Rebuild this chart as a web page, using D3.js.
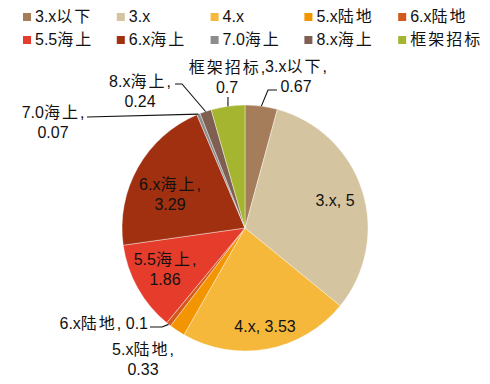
<!DOCTYPE html>
<html>
<head>
<meta charset="utf-8">
<script src="https://cdn.jsdelivr.net/npm/d3@7"></script>
<style>
  body { margin: 0; background: #fff; }
  text { font-family: "Liberation Sans", Arial, "Noto Sans CJK SC", sans-serif; fill: #111; }
</style>
</head>
<body>
<script>
// data
var categories = ["3.x以下", "3.x", "4.x", "5.x陆地", "6.x陆地", "5.5海上", "6.x海上", "7.0海上", "8.x海上", "框架招标"];
var values = [0.67, 5, 3.53, 0.33, 0.1, 1.86, 3.29, 0.07, 0.24, 0.7];
var colors = ["#A67D5A", "#D5C4A0", "#F5B83B", "#F39500", "#D45A1C", "#E63C2B", "#A0300F", "#8C8C8C", "#7E5F52", "#A5B530"];

var w = 490, h = 384;
var cx = 245, cy = 228, r = 123;

// label layout: inside labels use a radius/angle offset, outside ones get a spot and a leader
var labelLayout = {
    "3.x":     {inside: true, x: 90, y: -28, lines: 1},
    "4.x":     {inside: true, x: 20, y: 98, lines: 1},
    "6.x海上":  {inside: true, x: -75, y: -34, lines: 2},
    "5.5海上":  {inside: true, x: -80, y: 41, lines: 2},
    "3.x以下":  {x: 51, y: -156, lines: 2, leader: [[23, -138], [32, -138]]},
    "框架招标": {x: -18, y: -155, lines: 2, leader: [[-17, -131]]},
    "8.x海上":  {x: -105, y: -141, lines: 2, leader: [[-63, -144], [-70, -144]]},
    "7.0海上":  {x: -192, y: -110, lines: 2, leader: [[-158, -111]]},
    "6.x陆地":  {x: -97, y: 101, lines: 1, anchor: "end", leader: [[-83, 99], [-95, 99]]},
    "5.x陆地":  {x: -102, y: 127, lines: 2}
};

var svg = d3.select("body").append("svg")
    .attr("width", w)
    .attr("height", h);

// write text with spaced-out CJK runs
function fillText(t, str) {
    var runs = str.match(/[\u4e00-\u9fff]+|[^\u4e00-\u9fff]+/g);
    runs.forEach(function(s) {
        var ts = t.append("tspan").text(s);
        if (/[\u4e00-\u9fff]/.test(s)) {
            ts.style("font-family", "'Noto Sans CJK SC', sans-serif")
              .style("letter-spacing", "2px");
        }
    });
}

// legend
var legend = svg.append("g");
categories.forEach(function(c, i) {
    var col = i % 5, row = Math.floor(i / 5);
    var gx = 23 + col * 93.8, gy = 13 + row * 23;
    legend.append("rect")
        .attr("x", gx).attr("y", gy)
        .attr("width", 8).attr("height", 8)
        .attr("fill", colors[i]);
    var t = legend.append("text")
        .attr("x", gx + 12).attr("y", gy + 9)
        .style("font-size", "16px");
    fillText(t, c);
});

// pie
var pie = d3.pie().sort(null).value(function(d) { return d; });
var arcs = pie(values);
var arc = d3.arc().innerRadius(0).outerRadius(r);
var edgeArc = d3.arc().innerRadius(r).outerRadius(r);

var g = svg.append("g").attr("transform", "translate(" + cx + "," + cy + ")");

g.selectAll("path")
    .data(arcs)
    .enter()
    .append("path")
    .attr("d", arc)
    .attr("fill", function(d, i) { return colors[i]; })
    .attr("stroke", "#fff")
    .attr("stroke-width", 0.4);

// labels
arcs.forEach(function(d, i) {
    var name = categories[i];
    var L = labelLayout[name];
    var lines = L.lines === 1 ? [name + ", " + values[i]] : [name + ",", String(values[i])];
    var lx = L.x, ly = L.y;
    if (L.leader) {
        var p = edgeArc.centroid(d);
        var pts = [p].concat(L.leader);
        g.append("path")
            .attr("d", d3.line()(pts))
            .attr("fill", "none")
            .attr("stroke", "#111")
            .attr("stroke-width", 1.1);
    }
    var top = L.inside ? ly - (lines.length - 1) * 10 + 6 : ly;
    lines.forEach(function(s, k) {
        var t = g.append("text")
            .attr("x", lx)
            .attr("y", top + k * 20)
            .attr("text-anchor", L.anchor || "middle")
            .style("font-size", "16px");
        fillText(t, s);
    });
});
</script>
</body>
</html>
